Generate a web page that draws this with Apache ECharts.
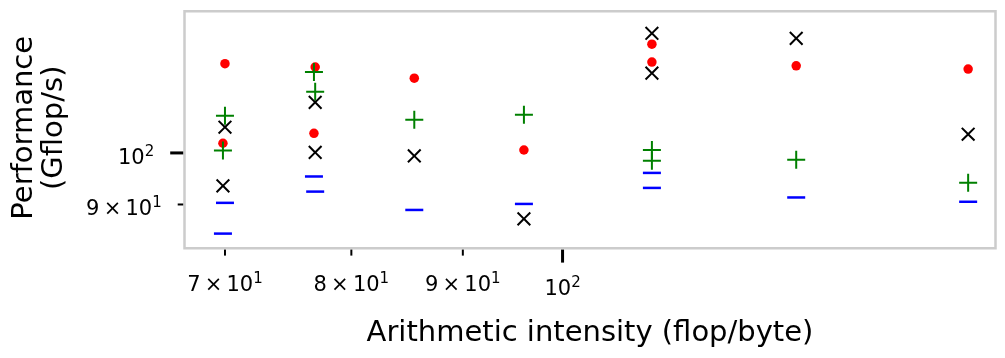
<!DOCTYPE html>
<html>
<head>
<meta charset="utf-8">
<title>Performance vs arithmetic intensity</title>
<script src="https://cdn.jsdelivr.net/npm/echarts@6.0.0/dist/echarts.min.js"></script>
<style>
  html, body { margin: 0; padding: 0; background: #fff; }
  #chart { width: 1005px; height: 358px; }
</style>
</head>
<body>
<div id="chart"></div>
<script>
// arithmetic intensity (flop/byte) and performance (Gflop/s)
const redX = [70.0, 69.85, 77.0, 76.9, 85.5, 96.0, 109.9, 109.9, 128.0, 153.5];
const redY = [120.0, 102.0, 119.2, 104.1, 116.5, 100.6, 124.9, 120.4, 119.5, 118.7];

const greenX = [70.0, 69.85, 76.9, 77.0, 85.5, 96.0, 109.9, 109.9, 128.0, 153.5];
const greenY = [107.9, 100.5, 118.0, 113.3, 107.0, 108.1, 100.6, 98.4, 98.6, 94.1];

const blackX = [70.0, 69.85, 77.0, 77.0, 85.5, 96.0, 109.9, 109.9, 128.0, 153.5];
const blackY = [105.4, 93.5, 110.9, 100.1, 99.4, 87.4, 127.7, 117.7, 126.4, 103.9];

const blueX = [70.0, 69.85, 76.9, 77.0, 85.5, 96.0, 109.9, 109.9, 128.0, 153.5];
const blueY = [90.3, 84.8, 95.3, 92.4, 89.0, 90.1, 96.0, 93.1, 91.3, 90.5];

const xTickValues = [70, 80, 90, 100];
const xTickLabels = ['7 × 10^1', '8 × 10^1', '9 × 10^1', '10^2'];
const xTickMajor = [false, false, false, true];

const yTickValues = [90, 100];
const yTickLabels = ['9 × 10^1', '10^2'];
const yTickMajor = [false, true];

const FONT = 'DejaVu Sans';
const grid = { left: 184.5, top: 11.2, right: 9.5, bottom: 109.7 };
const gridBottom = 358 - grid.bottom;

const plusPath = 'path://M-1,-9L1,-9L1,-1L9,-1L9,1L1,1L1,9L-1,9L-1,1L-9,1L-9,-1L-1,-1Z';
const dashPath = 'path://M0,0L18,0L18,2.5L0,2.5Z';

function pairs(xs, ys) {
  return xs.map((x, i) => [x, ys[i]]);
}

// "9 × 10^1" -> rich text with a raised exponent
function supText(label) {
  const parts = label.replace(/ × /g, '\u2009×\u2009').split('^');
  return '{n|' + parts[0] + '}{s|' + parts[1] + '}';
}
const supRich = {
  n: { fontSize: 21, lineHeight: 28, fontFamily: FONT, fill: '#000' },
  s: { fontSize: 15, lineHeight: 15, fontFamily: FONT, fill: '#000', verticalAlign: 'top' }
};

const chart = echarts.init(document.getElementById('chart'));

const option = {
  animation: false,
  textStyle: { fontFamily: FONT },
  grid: {
    left: grid.left, top: grid.top, right: grid.right, bottom: grid.bottom,
    show: true, borderColor: '#cccccc', borderWidth: 2.5,
    containLabel: false, outerBoundsMode: 'none'
  },
  xAxis: {
    type: 'log', logBase: 10, min: 67.07, max: 158.0,
    name: 'Arithmetic intensity (flop/byte)', nameLocation: 'middle', nameGap: 84.7,
    nameTextStyle: { fontSize: 29, color: '#000', fontFamily: FONT, verticalAlign: 'middle' },
    axisLine: { show: false }, axisTick: { show: false },
    axisLabel: { show: false }, splitLine: { show: false }
  },
  yAxis: {
    type: 'log', logBase: 10, min: 82.29, max: 133.6,
    name: 'Performance\n(Gflop/s)', nameLocation: 'middle', nameGap: 145,
    nameTextStyle: {
      fontSize: 29, lineHeight: 29.6, color: '#000', fontFamily: FONT,
      verticalAlign: 'middle', align: 'center', padding: [0, 0, 0, 4]
    },
    axisLine: { show: false }, axisTick: { show: false },
    axisLabel: { show: false }, splitLine: { show: false }
  },
  series: [
    {
      type: 'scatter', data: pairs(redX, redY),
      symbol: 'circle', symbolSize: 9.5,
      itemStyle: { color: '#ff0000', opacity: 1 }, z: 2
    },
    {
      type: 'scatter', data: pairs(greenX, greenY),
      symbol: plusPath, symbolSize: 18,
      itemStyle: { color: '#008000', opacity: 1 }, z: 3
    },
    {
      type: 'scatter', data: pairs(blackX, blackY),
      symbol: plusPath, symbolSize: 18, symbolRotate: 45,
      itemStyle: { color: '#000000', opacity: 1 }, z: 4
    },
    {
      type: 'scatter', data: pairs(blueX, blueY),
      symbol: dashPath, symbolSize: [18, 2.5],
      itemStyle: { color: '#0000ff', opacity: 1 }, z: 5
    }
  ]
};
chart.setOption(option);

// matplotlib style ticks at 7,8,9 x 10^1 and 10^2, placed through the log axes
const graphics = [];
xTickValues.forEach((v, i) => {
  const px = chart.convertToPixel({ xAxisIndex: 0 }, v);
  const major = xTickMajor[i];
  const len = major ? 13 : 6;
  graphics.push({
    type: 'line', silent: true,
    shape: { x1: px, y1: gridBottom + 1.3, x2: px, y2: gridBottom + 1.3 + len },
    style: { stroke: '#000', lineWidth: major ? 3 : 2 }
  });
  graphics.push({
    type: 'text', silent: true, x: px, y: gridBottom + (major ? 41.2 : 37.7),
    style: {
      text: supText(xTickLabels[i]), rich: supRich,
      align: 'center', verticalAlign: 'middle', textAlign: 'center', textVerticalAlign: 'middle'
    }
  });
});
yTickValues.forEach((v, i) => {
  const py = chart.convertToPixel({ yAxisIndex: 0 }, v);
  const major = yTickMajor[i];
  const len = major ? 13 : 5.5;
  const x0 = grid.left - 1.3;
  graphics.push({
    type: 'line', silent: true,
    shape: { x1: x0 - len, y1: py, x2: x0, y2: py },
    style: { stroke: '#000', lineWidth: major ? 3 : 2 }
  });
  graphics.push({
    type: 'text', silent: true, x: x0 - len - 16, y: py + 5.5,
    style: {
      text: supText(yTickLabels[i]), rich: supRich,
      align: 'right', verticalAlign: 'middle', textAlign: 'right', textVerticalAlign: 'middle'
    }
  });
});
chart.setOption({ graphic: graphics });
</script>
</body>
</html>
